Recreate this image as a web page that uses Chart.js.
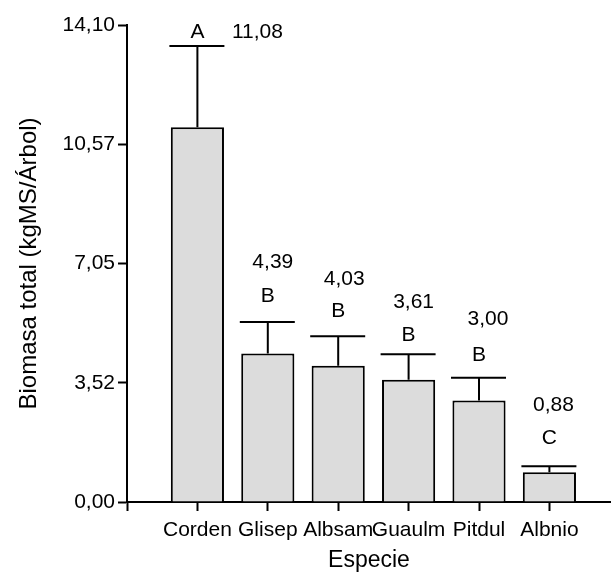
<!DOCTYPE html>
<html><head><meta charset="utf-8">
<script src="https://cdn.jsdelivr.net/npm/chart.js@4.4.0/dist/chart.umd.min.js"></script>
<style>html,body{margin:0;padding:0;background:#fff;} #wrap{width:611px;height:574px;}</style>
</head><body><div id="wrap"><canvas id="c" width="611" height="574"></canvas></div>
<script>
const categories = ['Corden', 'Glisep', 'Albsam', 'Guaulm', 'Pitdul', 'Albnio'];
const biomass = [11.08, 4.39, 4.03, 3.61, 3.00, 0.88];
const errorTop = [13.48, 5.32, 4.90, 4.37, 3.67, 1.06];
const groupLetters = ['A', 'B', 'B', 'B', 'B', 'C'];
const valueLabels = ['11,08', '4,39', '4,03', '3,61', '3,00', '0,88'];
const yTicks = [0, 3.52, 7.05, 10.57, 14.10];
const yTickLabels = ['0,00', '3,52', '7,05', '10,57', '14,10'];

// annotation placement (kept separate from data)
const letterY = [13.90, 6.07, 5.63, 4.94, 4.35, 1.88];
const valueY = [13.90, 7.10, 6.58, 5.92, 5.41, 2.87];
const valueDx = [60, 5, 6, 5, 9, 4];

const FONT = 'Liberation Sans, Arial, sans-serif';

const annot = {
  id: 'annot',
  afterDatasetsDraw(chart) {
    const ctx = chart.ctx;
    const xs = chart.scales.x, ys = chart.scales.y;
    ctx.save();
    ctx.strokeStyle = '#000';
    ctx.lineWidth = 2;
    categories.forEach((c, i) => {
      const x = xs.getPixelForValue(i + 1);
      const yb = ys.getPixelForValue(biomass[i]);
      const yt = ys.getPixelForValue(errorTop[i]);
      ctx.beginPath();
      ctx.moveTo(x, yb);
      ctx.lineTo(x, yt);
      ctx.moveTo(x - 28, yt);
      ctx.lineTo(x + 27, yt);
      ctx.stroke();
    });
    ctx.fillStyle = '#000';
    ctx.font = '21px ' + FONT;
    ctx.textAlign = 'center';
    ctx.textBaseline = 'middle';
    categories.forEach((c, i) => {
      const x = xs.getPixelForValue(i + 1);
      ctx.fillText(groupLetters[i], x, ys.getPixelForValue(letterY[i]));
      ctx.fillText(valueLabels[i], x + valueDx[i], ys.getPixelForValue(valueY[i]));
    });
    ctx.restore();
  }
};

new Chart(document.getElementById('c'), {
  type: 'bar',
  data: {
    datasets: [{
      data: biomass.map((v, i) => ({ x: i + 1, y: v })),
      backgroundColor: '#dcdcdc',
      borderColor: '#000',
      borderWidth: 2,
      barPercentage: 0.755,
      categoryPercentage: 1
    }]
  },
  options: {
    responsive: false,
    devicePixelRatio: 1,
    animation: false,
    layout: { padding: { top: 25, left: 0, right: 0, bottom: 0 } },
    plugins: { legend: { display: false }, tooltip: { enabled: false } },
    scales: {
      x: {
        type: 'linear',
        offset: false,
        min: 0,
        max: 6.875,
        afterBuildTicks: s => { s.ticks = [0, 1, 2, 3, 4, 5, 6].map(v => ({ value: v })); },
        afterFit: s => { s.height = 72; },
        grid: { offset: false, drawOnChartArea: false, drawTicks: true, tickLength: 9, tickWidth: 2, tickColor: '#000' },
        border: { display: true, color: '#000', width: 2 },
        ticks: {
          autoSkip: false, maxRotation: 0, minRotation: 0, padding: 7,
          color: '#000', font: { family: FONT, size: 21 },
          callback: v => (v >= 1 ? categories[v - 1] : '')
        },
        title: {
          display: true, text: 'Especie', color: '#000',
          font: { family: FONT, size: 23 }, padding: { top: 0, bottom: 0 }
        }
      },
      y: {
        min: 0,
        max: 14.10,
        afterBuildTicks: s => { s.ticks = yTicks.map(v => ({ value: v })); },
        afterFit: s => { s.width = 127; },
        grid: { drawOnChartArea: false, drawTicks: true, tickLength: 9, tickWidth: 2, tickColor: '#000' },
        border: { display: true, color: '#000', width: 2 },
        ticks: {
          padding: 3, color: '#000', font: { family: FONT, size: 21 },
          callback: (v, i) => yTickLabels[i]
        },
        title: {
          display: true, text: 'Biomasa total (kgMS/Árbol)', color: '#000',
          font: { family: FONT, size: 24 }, padding: { top: 15, bottom: 0 }
        }
      }
    }
  },
  plugins: [annot]
});
</script></body></html>
